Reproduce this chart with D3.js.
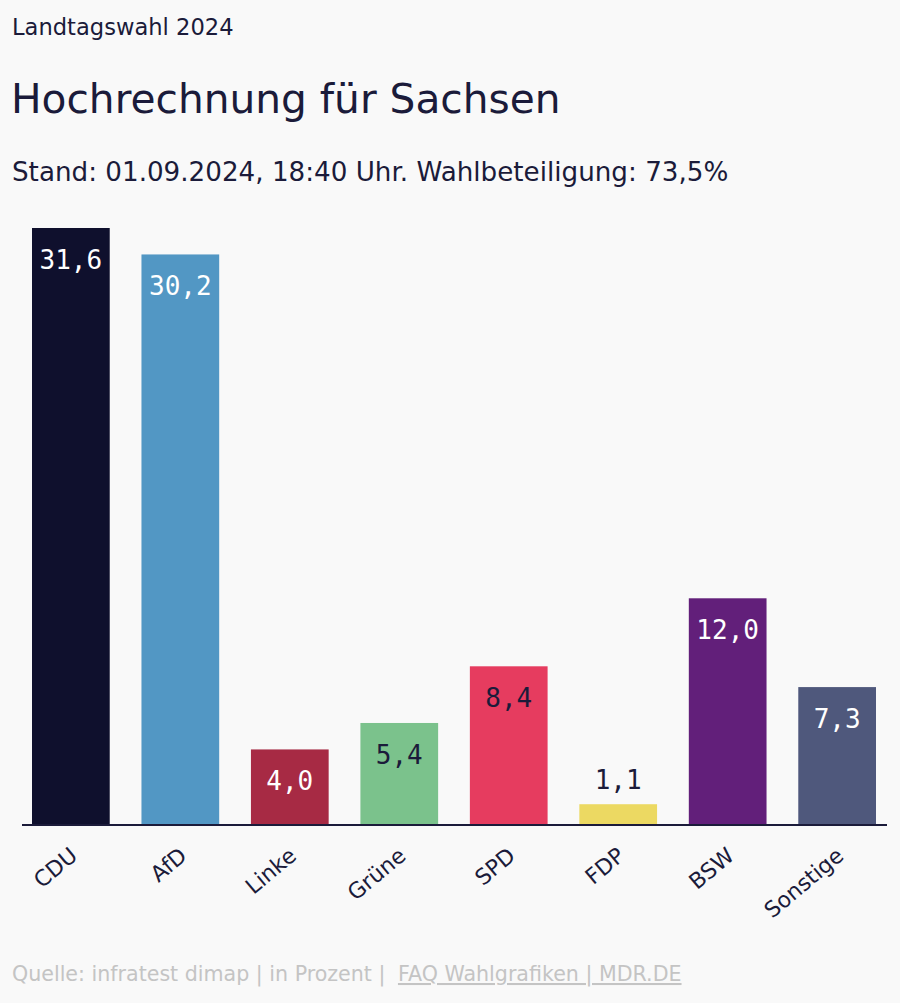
<!DOCTYPE html>
<html><head><meta charset="utf-8">
<script src="https://cdn.jsdelivr.net/npm/d3@7"></script>
<style>
html,body{margin:0;padding:0;background:#f9f9f9;}
svg{display:block;}
</style></head>
<body>
<svg id="chart" width="900" height="1003"></svg>
<script>
const parties = ["CDU","AfD","Linke","Grüne","SPD","FDP","BSW","Sonstige"];
const values = [31.6,30.2,4.0,5.4,8.4,1.1,12.0,7.3];
const colors = ["#0f102d","#5297c4","#a72a44","#7bc28c","#e63c5f","#ecd962","#621f7a","#4f587c"];
const labelColors = ["#ffffff","#ffffff","#ffffff","#1b1b3a","#1b1b3a","#1b1b3a","#ffffff","#ffffff"];

const svg = d3.select("#chart");
const ink = "#1b1b3a";
const sans = "'DejaVu Sans',sans-serif";

svg.append("rect").attr("width",900).attr("height",1003).attr("fill","#f9f9f9");

svg.append("text").attr("x",12).attr("y",35).attr("fill",ink)
  .style("font-family",sans).style("font-size","22.6px").text("Landtagswahl 2024");
svg.append("text").attr("x",11).attr("y",113).attr("fill",ink)
  .style("font-family",sans).style("font-size","40.7px").text("Hochrechnung für Sachsen");
svg.append("text").attr("x",12).attr("y",181).attr("fill",ink)
  .style("font-family",sans).style("font-size","26.2px").text("Stand: 01.09.2024, 18:40 Uhr. Wahlbeteiligung: 73,5%");

const base = 825;
const x = d3.scaleBand().domain(parties).range([32,876]).paddingInner(0.29).paddingOuter(0);
const y = d3.scaleLinear().domain([0,31.6]).range([base,228]);

const data = parties.map((p,i)=>({p,v:values[i],c:colors[i],lc:labelColors[i]}));

svg.append("g").selectAll("rect").data(data).join("rect")
  .attr("x",d=>x(d.p)).attr("width",x.bandwidth())
  .attr("y",d=>y(d.v)).attr("height",d=>base-y(d.v)).attr("fill",d=>d.c);

svg.append("g").selectAll("text").data(data).join("text")
  .attr("x",d=>x(d.p)+x.bandwidth()/2)
  .attr("y",d=> (base-y(d.v))>45 ? y(d.v)+41 : y(d.v)-15)
  .attr("text-anchor","middle")
  .attr("fill",d=> (base-y(d.v))>45 ? d.lc : ink)
  .style("font-family","'DejaVu Sans Mono',monospace").style("font-size","26px")
  .text(d=>d3.format(".1f")(d.v).replace(".",","));

const axis = svg.append("g").attr("transform",`translate(0,${base})`)
  .call(d3.axisBottom(x).tickSize(0).tickPadding(0));
axis.select(".domain").attr("stroke",ink).attr("stroke-width",2).attr("d","M22,0H887");
axis.selectAll(".tick text")
  .attr("fill",ink).style("font-family",sans).style("font-size","22px")
  .attr("text-anchor","end").attr("dy","0")
  .attr("transform","translate(8,33) rotate(-40)");

const foot = svg.append("text").attr("x",12).attr("y",981).attr("fill","#c4c4c4")
  .style("font-family",sans).style("font-size","20.6px");
foot.append("tspan").text("Quelle: infratest dimap | in Prozent | ");
foot.append("tspan").attr("dx",6).style("text-decoration","underline").text("FAQ Wahlgrafiken | MDR.DE");
</script>
</body></html>
